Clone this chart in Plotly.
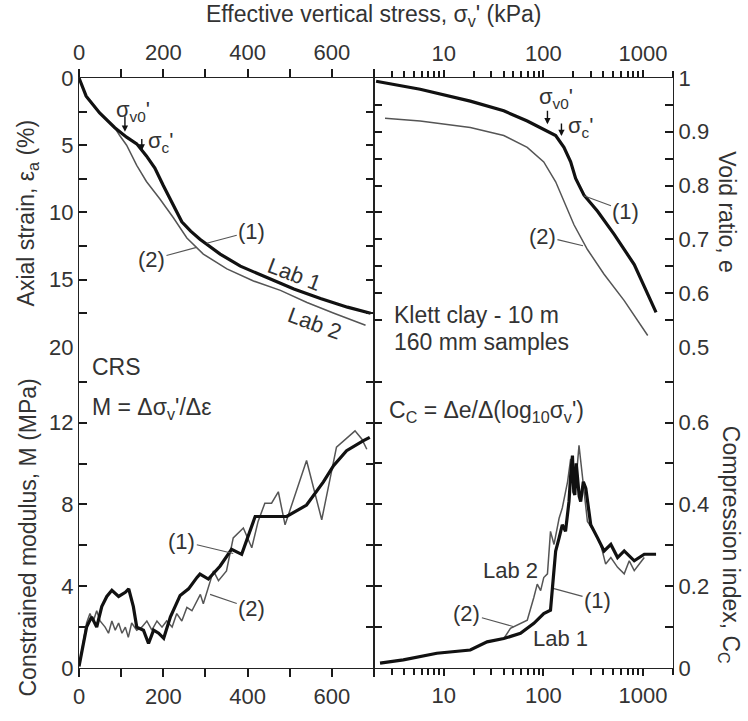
import numpy as np
import plotly.graph_objects as go

FONT = "Arial, Liberation Sans, Helvetica, sans-serif"
TXT = "#333333"
AX = "#222222"
TK = "#1a1a1a"
BLACK = "#111111"
GRAY = "#555555"

# ---------------- data ----------------
# Top-left: axial strain (%) vs effective vertical stress (kPa), linear
sl1_stress = [0, 17, 49, 85, 113, 137, 160, 180, 200, 224, 244, 265, 287, 335, 383, 446, 510, 573, 637, 692]
sl1_strain = [0, 1.35, 2.6, 3.7, 4.4, 4.9, 5.8, 6.7, 8.0, 9.45, 10.7, 11.4, 12.0, 13.1, 14.0, 14.85, 15.7, 16.4, 17.05, 17.5]
sl2_stress = [0, 17, 49, 85, 97, 113, 137, 160, 192, 224, 256, 295, 351, 414, 478, 541, 605, 680]
sl2_strain = [0, 1.35, 2.6, 3.7, 4.3, 5.0, 6.5, 7.7, 9.0, 10.4, 11.9, 13.1, 14.2, 15.1, 15.8, 16.7, 17.5, 18.4]

# Top-right: void ratio vs stress (log)
e1_stress = [2.1, 5.81, 18.5, 40.1, 69.0, 101, 133, 161, 188, 211, 256, 350, 514, 817, 1352]
e1_void = [0.994, 0.979, 0.957, 0.939, 0.920, 0.905, 0.893, 0.871, 0.844, 0.813, 0.782, 0.752, 0.709, 0.653, 0.564]
e2_stress = [2.58, 5.81, 18.5, 40.1, 69.0, 101, 133, 161, 203, 277, 407, 648, 1115]
e2_void = [0.925, 0.920, 0.908, 0.893, 0.871, 0.844, 0.807, 0.770, 0.727, 0.681, 0.635, 0.586, 0.521]

# Bottom-left: constrained modulus (MPa) vs stress (linear)
m1_stress = [0, 18, 30, 42, 54, 66, 78, 94, 110, 118, 129, 137, 153, 165, 177, 189, 201, 217, 240, 260,
             280, 287, 307, 335, 362, 386, 418, 493, 540, 580, 604, 635, 675, 690]
m1_mod = [0.08, 2.0, 2.5, 2.0, 3.0, 3.5, 3.8, 3.5, 3.7, 3.87, 3.0, 2.0, 1.85, 1.2, 1.85, 1.7, 1.45, 2.5, 3.55, 3.87,
          4.43, 4.59, 4.35, 4.99, 5.8, 5.56, 7.41, 7.41, 7.97, 9.1, 9.9, 10.63, 11.12, 11.28]
m2_stress = [0, 10, 18, 26, 34, 42, 50, 62, 70, 78, 86, 94, 102, 110, 117, 125, 137, 149, 161, 173, 185, 197,
             208, 221, 232, 244, 256, 268, 280, 288, 295, 319, 331, 350, 366, 390, 410, 425, 441, 457, 473, 489,
             540, 576, 611, 655, 671, 683]
m2_mod = [0.08, 1.2, 2.2, 2.66, 2.3, 2.8, 2.3, 2.0, 1.7, 2.3, 1.85, 2.2, 1.7, 2.0, 1.5, 2.2, 1.85, 2.0, 2.3, 1.85,
          2.3, 2.0, 2.3, 2.0, 2.66, 2.3, 2.96, 2.8, 3.3, 3.6, 3.14, 4.75, 4.27, 4.75, 6.36, 6.85, 5.88, 7.17, 8.06,
          8.06, 8.62, 7.0, 10.15, 7.25, 10.8, 11.6, 11.2, 10.7]

# Bottom-right: compression index vs stress (log)
c1_stress = [2.3, 3.94, 8.55, 18.5, 27.3, 40.1, 59.0, 80.4, 101, 118, 126, 133, 144, 155, 167, 181, 188, 196,
             202, 207, 214, 220, 229, 237, 252, 267, 299, 350, 407, 476, 556, 648, 817, 1030, 1352]
c1_cc = [0.012, 0.020, 0.036, 0.044, 0.064, 0.072, 0.085, 0.109, 0.133, 0.141, 0.221, 0.286, 0.318, 0.350, 0.334,
         0.407, 0.470, 0.519, 0.430, 0.423, 0.500, 0.463, 0.420, 0.407, 0.455, 0.439, 0.350, 0.318, 0.286, 0.302,
         0.270, 0.286, 0.262, 0.278, 0.278]
c2_stress = [2.3, 3.94, 8.55, 18.5, 27.3, 40.1, 46.8, 59.0, 69.0, 80.4, 86.9, 94.0, 101, 110, 118, 128, 144, 155,
             175, 188, 207, 228, 247, 277, 323, 376, 422, 476, 556, 648, 728, 817, 918, 1030]
c2_cc = [0.012, 0.020, 0.036, 0.044, 0.064, 0.072, 0.097, 0.109, 0.117, 0.173, 0.205, 0.189, 0.221, 0.230, 0.334,
         0.302, 0.366, 0.391, 0.455, 0.511, 0.423, 0.544, 0.463, 0.358, 0.334, 0.302, 0.254, 0.270, 0.246, 0.230,
         0.262, 0.238, 0.254, 0.270]

# tick definitions (labelled major ticks + unlabelled minor ticks)
lin_major = [0, 200, 400, 600]
lin_minor = [100, 300, 500, 700]
log_major = [10, 100, 1000]
log_minor = [d * m for m in (1, 10, 100) for d in range(2, 10)] + [2000]
strain_major = [0, 5, 10, 15, 20]
strain_minor = [2.5, 7.5, 12.5, 17.5]
void_major = [0.5, 0.6, 0.7, 0.8, 0.9, 1.0]
void_text = ["0.5", "0.6", "0.7", "0.8", "0.9", "1"]
void_minor = [0.55, 0.65, 0.75, 0.85, 0.95]
mod_major = [0, 4, 8, 12]
mod_minor = [2, 6, 10, 14]
cc_major = [0, 0.2, 0.4, 0.6]
cc_text = ["0", "0.2", "0.4", "0.6"]
cc_minor = [0.1, 0.3, 0.5, 0.7]

# ---------------- figure ----------------
D = 0.4966   # split between left and right panels
H = 0.5444   # split between bottom and top panels

fig = go.Figure()


def line(x, y, xa, ya, thick):
    fig.add_trace(go.Scatter(x=x, y=y, xaxis=xa, yaxis=ya, mode="lines", hoverinfo="skip",
                             line=dict(color=BLACK if thick else GRAY, width=3.2 if thick else 1.5)))


line(sl2_stress, sl2_strain, "x3", "y3", False)
line(sl1_stress, sl1_strain, "x3", "y3", True)
line(e2_stress, e2_void, "x4", "y4", False)
line(e1_stress, e1_void, "x4", "y4", True)
line(m2_stress, m2_mod, "x", "y", False)
line(m1_stress, m1_mod, "x", "y", True)
line(c2_stress, c2_cc, "x2", "y2", False)
line(c1_stress, c1_cc, "x2", "y2", True)

tickfont = dict(family=FONT, size=22, color=TXT)
common = dict(showline=True, linecolor=AX, linewidth=1.3, showgrid=False, zeroline=False,
              tickcolor=TK, tickwidth=1.6, tickfont=tickfont, fixedrange=True, tickmode="array")


def xax(domain, anchor, side, major, minor, log=False):
    d = dict(domain=domain, anchor=anchor, side=side, tickvals=major, ticks="outside",
             ticklen=7 if log else 8, mirror=False,
             minor=dict(tickmode="array", tickvals=minor, ticks="outside", ticklen=6 if log else 8,
                        tickcolor=TK, tickwidth=1.6, showgrid=False), **common)
    if log:
        d.update(type="log", range=[np.log10(2), np.log10(2000)], ticktext=[str(v) for v in major])
    else:
        d.update(range=[0, 700])
    return d


def yax(domain, anchor, side, rng, major, minor, text=None):
    d = dict(domain=domain, anchor=anchor, side=side, range=rng, tickvals=major, ticks="inside", ticklen=8,
             mirror="ticks",
             minor=dict(tickmode="array", tickvals=minor, ticks="inside", ticklen=8, tickcolor=TK,
                        tickwidth=1.6, showgrid=False), **common)
    if text is not None:
        d["ticktext"] = text
    return d


fig.update_layout(
    width=748, height=721,
    margin=dict(l=79, r=75, t=78, b=46),
    paper_bgcolor="white", plot_bgcolor="white",
    showlegend=False,
    xaxis=xax([0, D], "y", "bottom", lin_major, lin_minor),
    yaxis=yax([0, H], "x", "left", [0, 15.71], mod_major, mod_minor),
    xaxis2=xax([D, 1], "y2", "bottom", log_major, log_minor, log=True),
    yaxis2=yax([0, H], "x2", "right", [0, 0.785], cc_major, cc_minor, cc_text),
    xaxis3=xax([0, D], "y3", "top", lin_major, lin_minor),
    yaxis3=yax([H, 1], "x3", "left", [20, 0], strain_major, strain_minor),
    xaxis4=xax([D, 1], "y4", "top", log_major, log_minor, log=True),
    yaxis4=yax([H, 1], "x4", "right", [0.5, 1.0], void_major, void_minor, void_text),
)

ann = []


def text(t, x, y, xref="paper", yref="paper", xanchor="center", yanchor="middle", angle=0, size=23):
    ann.append(dict(text=t, x=x, y=y, xref=xref, yref=yref, xanchor=xanchor, yanchor=yanchor,
                    textangle=angle, showarrow=False, font=dict(family=FONT, size=size, color=TXT)))


def leader(t, tx, ty, px, py, xref, yref):
    ann.append(dict(text=t, x=px, y=py, ax=tx, ay=ty, xref=xref, yref=yref, axref=xref, ayref=yref,
                    showarrow=True, arrowhead=0, arrowwidth=1.1, arrowcolor=GRAY, standoff=0,
                    font=dict(family=FONT, size=22, color=TXT)))


def down_arrow(x, y, length, xref, yref):
    ann.append(dict(text="", x=x, y=y, ax=0, ay=-length, xref=xref, yref=yref, showarrow=True,
                    arrowhead=2, arrowsize=0.9, arrowwidth=1.4, arrowcolor=BLACK, standoff=0))


# axis titles
text("Effective vertical stress, σ<sub>v</sub>' (kPa)", D, 1.1055)
text("Axial strain, ε<sub>a</sub> (%)", -0.086, 0.772, angle=-90)
text("Constrained modulus, M (MPa)", -0.086, 0.221, angle=-90)
text("Void ratio, e", 1.091, 0.774, angle=90)
text("Compression index, C<sub>C</sub>", 1.094, 0.209, angle=90)

# panel texts
text("Klett clay - 10 m", 0.527, 0.598, xanchor="left")
text("160 mm samples", 0.527, 0.553, xanchor="left")
text("CRS", 0.0185, 0.511, xanchor="left")
text("M = Δσ<sub>v</sub>'/Δε", 0.0185, 0.439, xanchor="left")
text("C<sub>C</sub> = Δe/Δ(log<sub>10</sub>σ<sub>v</sub>')", 0.5185, 0.4355, xanchor="left")

# top-left
text("Lab 1", 512, 14.6, "x3", "y3", angle=21, size=22)
text("Lab 2", 560, 18.3, "x3", "y3", angle=20, size=22)
down_arrow(109, 4.0, 17, "x3", "y3")
text("σ<sub>v0</sub>'", 127, 2.45, "x3", "y3", size=22)
down_arrow(149, 5.4, 13, "x3", "y3")
text("σ<sub>c</sub>'", 158, 4.75, "x3", "y3", xanchor="left", size=22)
leader("(1)", 410, 11.4, 303, 12.3, "x3", "y3")
leader("(2)", 172, 13.5, 279, 12.6, "x3", "y3")

# top-right (log axes use log10 coordinates)
L = np.log10
down_arrow(L(110), 0.914, 15, "x4", "y4")
text("σ<sub>v0</sub>'", L(133), 0.963, "x4", "y4", size=22)
down_arrow(L(152), 0.892, 14, "x4", "y4")
text("σ<sub>c</sub>'", L(170), 0.908, "x4", "y4", xanchor="left", size=22)
leader("(1)", L(675), 0.752, L(255), 0.781, "x4", "y4")
leader("(2)", L(98), 0.706, L(250), 0.688, "x4", "y4")

# bottom-left
leader("(1)", 244, 6.2, 366, 5.6, "x", "y")
leader("(2)", 410, 2.9, 311, 3.6, "x", "y")

# bottom-right
text("Lab 2", L(46.9), 0.238, "x2", "y2", size=22)
text("Lab 1", L(149), 0.073, "x2", "y2", size=22)
leader("(2)", L(17.1), 0.133, L(50.6), 0.101, "x2", "y2")
leader("(1)", L(350), 0.165, L(128), 0.194, "x2", "y2")

fig.update_layout(annotations=ann)
fig.write_html("out.html")
